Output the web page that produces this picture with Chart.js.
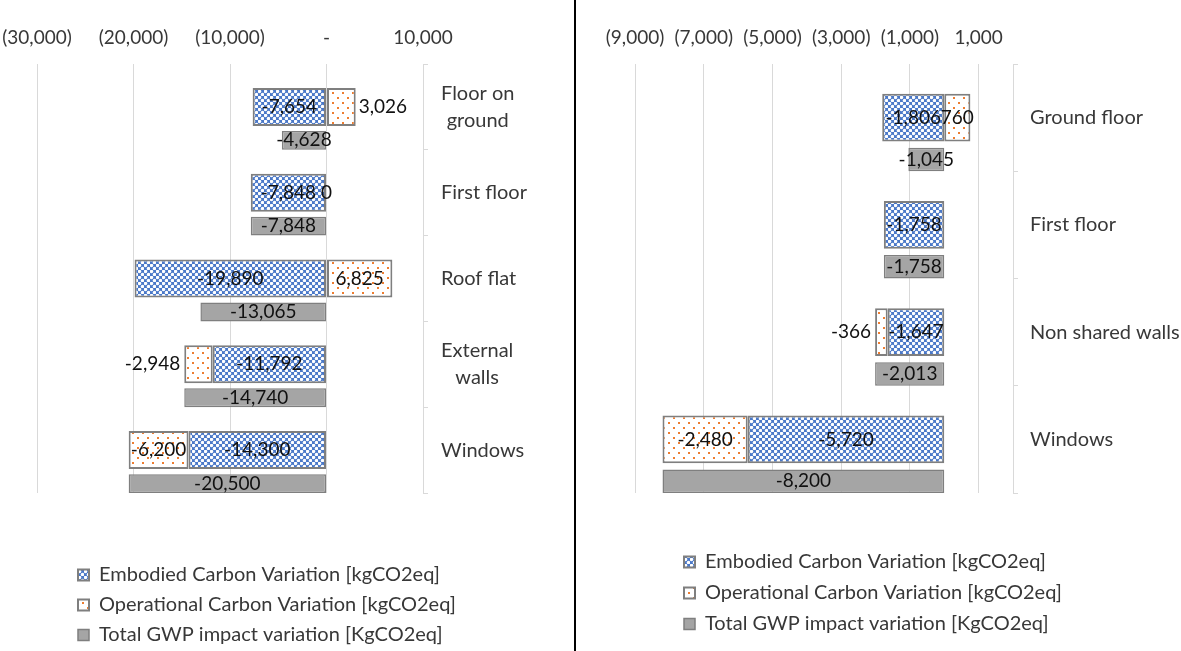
<!DOCTYPE html>
<html>
<head>
<meta charset="utf-8">
<script src="https://cdn.jsdelivr.net/npm/chart.js@4.4.0/dist/chart.umd.min.js"></script>
<style>
  html, body { margin: 0; padding: 0; background: #ffffff; }
  #wrap { display: flex; width: 1181px; height: 651px; overflow: hidden; }
  #leftPane { width: 574px; height: 651px; }
  #divider { width: 2px; height: 651px; background: #000000; }
  #rightPane { width: 605px; height: 651px; }
  canvas { display: block; }
</style>
</head>
<body>
<div id="wrap">
  <div id="leftPane"><canvas id="leftChart" width="574" height="651"></canvas></div>
  <div id="divider"></div>
  <div id="rightPane"><canvas id="rightChart" width="605" height="651"></canvas></div>
</div>
<script>
// ---- data ----------------------------------------------------------------
const seriesNames = [
  'Embodied Carbon Variation [kgCO2eq]',
  'Operational Carbon Variation [kgCO2eq]',
  'Total GWP impact variation [KgCO2eq]'
];

const leftCategories  = [['Floor on', 'ground'], 'First floor', 'Roof flat', ['External', 'walls'], 'Windows'];
const leftEmbodied    = [-7654, -7848, -19890, -11792, -14300];
const leftOperational = [3026, 0, 6825, -2948, -6200];
const leftTotal       = [-4628, -7848, -13065, -14740, -20500];
const leftTicks       = [-30000, -20000, -10000, 0, 10000];
const leftRange       = [-30000, 10000];

const rightCategories  = ['Ground floor', 'First floor', 'Non shared walls', 'Windows'];
const rightEmbodied    = [-1806, -1758, -1647, -5720];
const rightOperational = [760, null, -366, -2480];
const rightTotal       = [-1045, -1758, -2013, -8200];
const rightTicks       = [-9000, -7000, -5000, -3000, -1000, 1000];
const rightRange       = [-9000, 2000];

// ---- styling -------------------------------------------------------------
const FONT = "Lato, 'Open Sans', sans-serif";
const TEXT_GREY = '#383838';
const EDGE = '#7f7f7f';

function makePattern(size, paint) {
  const tile = document.createElement('canvas');
  tile.width = tile.height = size;
  const g = tile.getContext('2d');
  paint(g, size);
  return g.createPattern(tile, 'repeat');
}

// blue lattice with round white holes
const embodiedFill = makePattern(6, (g, s) => {
  g.fillStyle = '#4a78c8';
  g.fillRect(0, 0, s, s);
  g.fillStyle = '#ffffff';
  [[1.5, 1.5], [4.5, 4.5]].forEach(([cx, cy]) => {
    g.beginPath();
    g.arc(cx, cy, 1.75, 0, Math.PI * 2);
    g.fill();
  });
});

// sparse orange dots on white
const operationalFill = makePattern(10, (g, s) => {
  g.fillStyle = '#ffffff';
  g.fillRect(0, 0, s, s);
  g.fillStyle = '#ed7d31';
  g.fillRect(2, 2, 2, 2);
  g.fillRect(7, 7, 2, 2);
});

const totalFill = '#a5a5a5';

const fmtNumber = v => Math.abs(v).toLocaleString('en-US');
const axisLabel = v => (v < 0 ? '(' + fmtNumber(v) + ')' : v === 0 ? '-' : fmtNumber(v));
const valueLabel = v => (v < 0 ? '-' : '') + fmtNumber(v);

// value labels, category labels and legend placement
const panelText = {
  id: 'panelText',
  afterLayout(chart, args, opts) {
    const lg = chart.legend;
    if (!lg) return;
    const pad = lg.options.labels.padding;
    const dx = opts.legendLeft - (lg.left + pad);
    const dy = opts.legendTop - lg.top;
    lg.left += dx; lg.right += dx;
    lg.top += dy; lg.bottom += dy;
  },
  afterDatasetsDraw(chart, args, opts) {
    const ctx = chart.ctx;
    const xs = chart.scales.x;
    ctx.save();
    ctx.font = '19px ' + FONT;
    ctx.fillStyle = '#111111';
    ctx.textBaseline = 'middle';
    chart.data.datasets.forEach((ds, di) => {
      if (ds.spacer) return;
      const meta = chart.getDatasetMeta(di);
      meta.data.forEach((bar, i) => {
        const v = ds.data[i];
        if (v === null || v === undefined) return;
        const text = valueLabel(v);
        const tw = ctx.measureText(text).width;
        const lo = Math.min(bar.x, bar.base);
        const hi = Math.max(bar.x, bar.base);
        if (v === 0) {
          ctx.textAlign = 'center';
          ctx.fillText(text, xs.getPixelForValue(0), bar.y);
        } else if (ds.labelOutside && (hi - lo) < tw * 0.75) {
          if (v > 0) { ctx.textAlign = 'left'; ctx.fillText(text, hi + 3, bar.y); }
          else { ctx.textAlign = 'right'; ctx.fillText(text, lo - 4, bar.y); }
        } else {
          ctx.textAlign = 'center';
          ctx.fillText(text, (lo + hi) / 2, bar.y);
        }
      });
    });
    ctx.restore();
  },
  afterDraw(chart, args, opts) {
    const ctx = chart.ctx;
    const ys = chart.scales.y;
    ctx.save();
    ctx.font = '20px ' + FONT;
    ctx.fillStyle = TEXT_GREY;
    ctx.textAlign = 'center';
    ctx.textBaseline = 'middle';
    chart.data.labels.forEach((label, i) => {
      const lines = Array.isArray(label) ? label : [label];
      const w = Math.max(...lines.map(l => ctx.measureText(l).width));
      const cx = ys.left + opts.labelGap + w / 2;
      const cy = ys.getPixelForTick(i);
      lines.forEach((line, j) => {
        ctx.fillText(line, cx, cy + (j - (lines.length - 1) / 2) * opts.lineGap);
      });
    });
    ctx.restore();
  }
};

function makeChart(canvasId, d, L) {
  return new Chart(document.getElementById(canvasId), {
    type: 'bar',
    data: {
      labels: d.categories,
      datasets: [
        { label: '', spacer: true, stack: 'lead', data: d.categories.map(() => null) },
        {
          label: seriesNames[0], data: d.embodied, stack: 'parts',
          backgroundColor: embodiedFill, borderColor: EDGE, borderWidth: 2,
          barPercentage: 1.136
        },
        {
          label: seriesNames[1], data: d.operational, stack: 'parts', labelOutside: true,
          backgroundColor: operationalFill, borderColor: EDGE, borderWidth: 2,
          barPercentage: 1.136
        },
        {
          label: seriesNames[2], data: d.total, stack: 'total',
          backgroundColor: totalFill, borderColor: EDGE, borderWidth: 1.5,
          barPercentage: 0.564
        }
      ]
    },
    options: {
      indexAxis: 'y',
      responsive: false,
      animation: false,
      devicePixelRatio: 1,
      layout: { padding: { left: L.plotLeft, top: 0, right: 0, bottom: L.bottomPad } },
      datasets: { bar: { categoryPercentage: 1.17, borderSkipped: false } },
      scales: {
        x: {
          position: 'top',
          stacked: true,
          min: d.range[0],
          max: d.range[1],
          afterBuildTicks: s => { s.ticks = d.ticks.map(v => ({ value: v })); },
          afterFit: s => { s.height = L.plotTop; },
          grid: { color: '#d9d9d9', lineWidth: 1, drawTicks: true, tickLength: 14, tickColor: 'rgba(0,0,0,0)' },
          border: { display: false },
          ticks: {
            padding: 1, autoSkip: false, maxRotation: 0,
            color: TEXT_GREY, font: { family: FONT, size: 19 },
            callback: v => axisLabel(v)
          }
        },
        y: {
          position: 'right',
          afterFit: s => { s.width = L.axisWidth; },
          grid: { drawOnChartArea: false, drawTicks: true, tickLength: 5, color: '#d9d9d9', offset: true },
          border: { display: true, color: '#d9d9d9', width: 1 },
          ticks: { display: false }
        }
      },
      plugins: {
        tooltip: { enabled: false },
        legend: {
          position: 'bottom',
          align: 'start',
          labels: {
            boxWidth: 11, boxHeight: 11, padding: L.legendPad,
            color: TEXT_GREY, font: { family: FONT, size: 20 },
            filter: (item, data) => !data.datasets[item.datasetIndex].spacer
          }
        },
        panelText: {
          legendLeft: L.legendLeft, legendTop: L.legendTop,
          labelGap: L.labelGap, lineGap: 27
        }
      }
    },
    plugins: [panelText]
  });
}

makeChart('leftChart',
  { categories: leftCategories, embodied: leftEmbodied, operational: leftOperational,
    total: leftTotal, ticks: leftTicks, range: leftRange },
  { plotLeft: 37, plotTop: 64, axisWidth: 151, bottomPad: 58, legendPad: 10,
    legendLeft: 78, legendTop: 555, labelGap: 18 });

makeChart('rightChart',
  { categories: rightCategories, embodied: rightEmbodied, operational: rightOperational,
    total: rightTotal, ticks: rightTicks, range: rightRange },
  { plotLeft: 59, plotTop: 64, axisWidth: 168, bottomPad: 55, legendPad: 11,
    legendLeft: 108, legendTop: 541, labelGap: 17 });
</script>
</body>
</html>
